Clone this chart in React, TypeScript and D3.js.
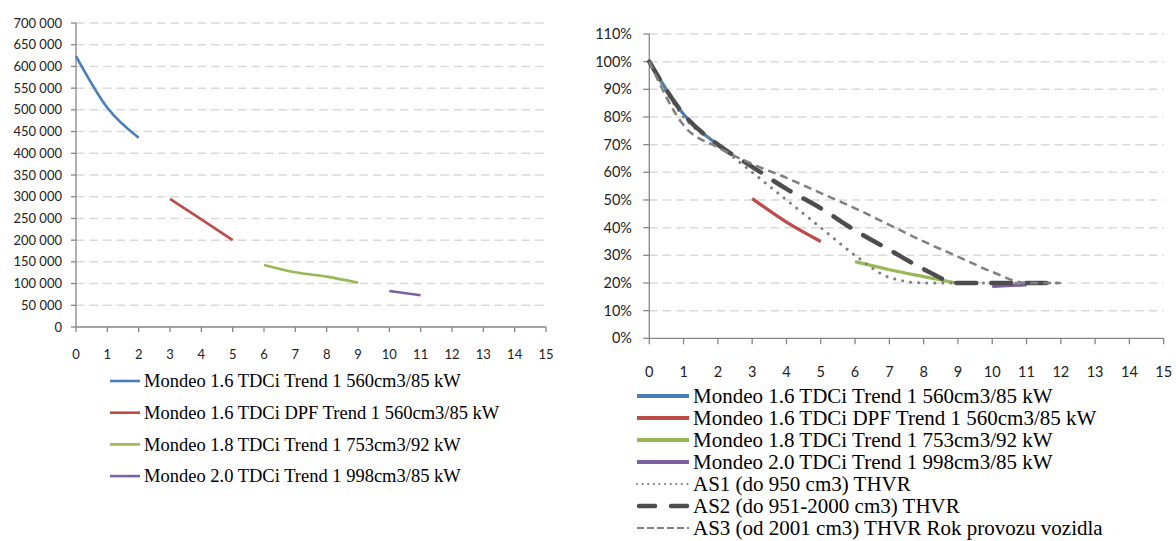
import React from "react";
import * as d3 from "d3";

// ---------- DATA ----------
const xTicks = d3.range(0, 16);
const leftYTicks = d3.range(0, 700001, 50000);
const rightYTicks = d3.range(0, 12).map((d) => d / 10);

const seriesNames = [
  "Mondeo 1.6 TDCi Trend 1 560cm3/85 kW",
  "Mondeo 1.6 TDCi DPF Trend 1 560cm3/85 kW",
  "Mondeo 1.8 TDCi Trend 1 753cm3/92 kW",
  "Mondeo 2.0 TDCi Trend 1 998cm3/85 kW",
];
const seriesColors = ["#4A7EBB", "#BE4B48", "#98B954", "#7D60A0"];
const seriesStartYear = [0, 3, 6, 10];

// Left chart: price (CZK)
const priceBlue = [624000, 505000, 436000];
const priceRed = [295000, 248000, 200000];
const priceGreen = [143000, 126000, 116000, 102000];
const pricePurple = [83000, 73000];

// Right chart: share of original value
const shareBlue = [1.0, 0.81, 0.7];
const shareRed = [0.505, 0.42, 0.35];
const shareGreen = [0.277, 0.248, 0.223, 0.199];
const sharePurple = [0.188, 0.193];

const asNames = [
  "AS1 (do 950 cm3) THVR",
  "AS2 (do 951-2000 cm3) THVR",
  "AS3 (od 2001 cm3) THVR Rok provozu vozidla",
];
const as1 = [1.0, 0.8, 0.7, 0.6, 0.5, 0.4, 0.3, 0.22, 0.2, 0.2, 0.2, 0.2, 0.2];
const as2 = [1.0, 0.81, 0.7, 0.62, 0.54, 0.47, 0.39, 0.32, 0.25, 0.2, 0.2, 0.2, 0.2];
const as3 = [1.0, 0.77, 0.69, 0.63, 0.58, 0.525, 0.47, 0.41, 0.35, 0.295, 0.24, 0.2, 0.2];

// ---------- STYLES ----------
const sansFont = "Lato, Open Sans, sans-serif";
const serifFont = "'Liberation Serif', serif";
const gridColor = "#d9d9d9";
const axisColor = "#868686";

const locale = d3.formatLocale({ decimal: ",", thousands: " ", grouping: [3], currency: ["", ""] });
const fmtThousands = locale.format(",d");
const fmtPct = d3.format(".0%");

const asStyles = [
  { color: "#808080", width: 3, dash: "0.1 8", cap: "round" as const },
  { color: "#4d4d4d", width: 4.5, dash: "20 15", cap: "round" as const },
  { color: "#808080", width: 2.5, dash: "8 5", cap: "butt" as const },
];

function pathFor(values: number[], start: number, x: d3.ScaleLinear<number, number>, y: d3.ScaleLinear<number, number>) {
  const line = d3
    .line<number>()
    .x((_, i) => x(start + i))
    .y((d) => y(d))
    .curve(d3.curveMonotoneX);
  return line(values) || "";
}

export default function App() {
  const xL = d3.scaleLinear().domain([0, 15]).range([76, 546]);
  const yL = d3.scaleLinear().domain([0, 700000]).range([327, 23]);
  const xR = d3.scaleLinear().domain([0, 15]).range([649.3, 1163.7]);
  const yR = d3.scaleLinear().domain([0, 1.1]).range([338.3, 34]);

  const leftSeries = [priceBlue, priceRed, priceGreen, pricePurple];
  const rightSeries = [shareBlue, shareRed, shareGreen, sharePurple];
  const asSeries = [as1, as2, as3];

  return (
    <svg width={1176} height={541} style={{ position: "absolute", left: 0, top: 0, background: "#fff" }}>
      <rect x={0} y={0} width={1176} height={541} fill="#fff" />

      {/* ===== LEFT CHART ===== */}
      <g>
        {leftYTicks.filter((t) => t > 0).map((t) => (
          <line key={"lg" + t} x1={xL(0)} x2={xL(15)} y1={yL(t)} y2={yL(t)} stroke={gridColor} strokeWidth={1.5} strokeDasharray="8.5 5" />
        ))}
        <line x1={xL(0)} x2={xL(0)} y1={yL(700000)} y2={yL(0)} stroke={axisColor} strokeWidth={1.3} />
        <line x1={xL(0)} x2={xL(15)} y1={yL(0)} y2={yL(0)} stroke={axisColor} strokeWidth={1.3} />
        {leftYTicks.map((t) => (
          <g key={"ly" + t}>
            <line x1={xL(0) - 5} x2={xL(0)} y1={yL(t)} y2={yL(t)} stroke={axisColor} strokeWidth={1.3} />
            <text x={62} y={yL(t)} dy="0.35em" textAnchor="end" style={{ fontFamily: sansFont }} fontSize={13} fill="#222">
              {fmtThousands(t)}
            </text>
          </g>
        ))}
        {xTicks.map((t) => (
          <g key={"lx" + t}>
            <line x1={xL(t)} x2={xL(t)} y1={yL(0)} y2={yL(0) + 5} stroke={axisColor} strokeWidth={1.3} />
            <text x={xL(t)} y={354} dy="0.35em" textAnchor="middle" style={{ fontFamily: sansFont }} fontSize={13} fill="#222">
              {t}
            </text>
          </g>
        ))}
        {leftSeries.map((vals, i) => (
          <path key={"ls" + i} d={pathFor(vals, seriesStartYear[i], xL, yL)} fill="none" stroke={seriesColors[i]} strokeWidth={2.6} />
        ))}
        {seriesNames.map((name, i) => {
          const yy = 381 + i * 31.7;
          return (
            <g key={"ll" + i}>
              <line x1={110} x2={140} y1={yy} y2={yy} stroke={seriesColors[i]} strokeWidth={2.6} />
              <text x={144} y={yy} dy="0.33em" style={{ fontFamily: serifFont }} fontSize={18.5} fill="#000">
                {name}
              </text>
            </g>
          );
        })}
      </g>

      {/* ===== RIGHT CHART ===== */}
      <g>
        {rightYTicks.filter((t) => t > 0).map((t) => (
          <line key={"rg" + t} x1={xR(0)} x2={xR(15)} y1={yR(t)} y2={yR(t)} stroke={gridColor} strokeWidth={1.5} strokeDasharray="8.5 5" />
        ))}
        <line x1={xR(0)} x2={xR(0)} y1={yR(1.1)} y2={yR(0)} stroke={axisColor} strokeWidth={1.3} />
        <line x1={xR(0)} x2={xR(15)} y1={yR(0)} y2={yR(0)} stroke={axisColor} strokeWidth={1.3} />
        {rightYTicks.map((t) => (
          <g key={"ry" + t}>
            <line x1={xR(0) - 6} x2={xR(0)} y1={yR(t)} y2={yR(t)} stroke={axisColor} strokeWidth={1.3} />
            <text x={632} y={yR(t)} dy="0.35em" textAnchor="end" style={{ fontFamily: sansFont }} fontSize={14.5} fill="#222">
              {fmtPct(t)}
            </text>
          </g>
        ))}
        {xTicks.map((t) => (
          <g key={"rx" + t}>
            <line x1={xR(t)} x2={xR(t)} y1={yR(0)} y2={yR(0) + 6} stroke={axisColor} strokeWidth={1.3} />
            <text x={xR(t)} y={371.5} dy="0.35em" textAnchor="middle" style={{ fontFamily: sansFont }} fontSize={14.5} fill="#222">
              {t}
            </text>
          </g>
        ))}
        {rightSeries.map((vals, i) => (
          <path key={"rs" + i} d={pathFor(vals, seriesStartYear[i], xR, yR)} fill="none" stroke={seriesColors[i]} strokeWidth={3.2} />
        ))}
        {asSeries.map((vals, i) => (
          <path
            key={"as" + i}
            d={pathFor(vals, 0, xR, yR)}
            fill="none"
            stroke={asStyles[i].color}
            strokeWidth={asStyles[i].width}
            strokeDasharray={asStyles[i].dash}
            strokeLinecap={asStyles[i].cap}
          />
        ))}
        {seriesNames.map((name, i) => {
          const yy = 396 + i * 22;
          return (
            <g key={"rl" + i}>
              <line x1={637} x2={689} y1={yy} y2={yy} stroke={seriesColors[i]} strokeWidth={4} />
              <text x={693} y={yy} dy="0.33em" style={{ fontFamily: serifFont }} fontSize={21} fill="#000">
                {name}
              </text>
            </g>
          );
        })}
        {asNames.map((name, i) => {
          const yy = 396 + (i + 4) * 22;
          return (
            <g key={"ra" + i}>
              <line
                x1={i === 1 ? 639 : 637}
                x2={i === 1 ? 687 : 689}
                y1={yy}
                y2={yy}
                stroke={asStyles[i].color}
                strokeWidth={i === 1 ? 4.5 : 2.2}
                strokeDasharray={i === 0 ? "0.1 5.5" : i === 1 ? "16 16" : "7 3"}
                strokeLinecap={asStyles[i].cap}
              />
              <text x={693} y={yy} dy="0.33em" style={{ fontFamily: serifFont }} fontSize={21} fill="#000">
                {name}
              </text>
            </g>
          );
        })}
      </g>
    </svg>
  );
}
